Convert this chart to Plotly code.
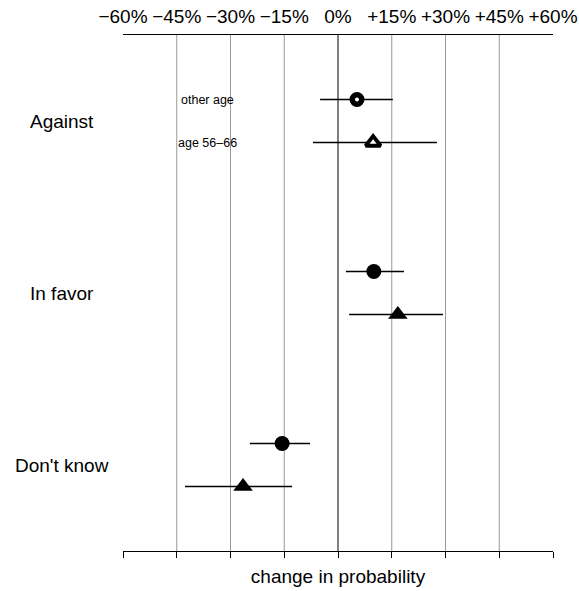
import plotly.graph_objects as go

groups = ["Against", "In favor", "Don't know"]
series_names = ["other age", "age 56\u201366"]
# estimates in percentage points
est_other = [5.3, 10.0, -15.6]
lo_other = [-5.0, 2.2, -24.6]
hi_other = [15.3, 18.4, -7.8]
est_age = [9.8, 16.7, -26.5]
lo_age = [-7.0, 3.1, -42.7]
hi_age = [27.6, 29.3, -12.8]

tick_vals = [-60, -45, -30, -15, 0, 15, 30, 45, 60]
tick_text = ["\u221260%", "\u221245%", "\u221230%", "\u221215%", "0%", "+15%", "+30%", "+45%", "+60%"]

group_centers = [2, 6, 10]
y_other = [c - 0.5 for c in group_centers]
y_age = [c + 0.5 for c in group_centers]

fig = go.Figure()

def add_series(est, lo, hi, ys, symbol):
    for i in range(len(est)):
        hollow = (i == 0)
        if symbol == "circle":
            size, lw = (9.5, 5.5) if hollow else (15, 0)
        else:
            size, lw = (13, 3.8) if hollow else (17, 0)
        fig.add_trace(go.Scatter(
            x=[est[i]], y=[ys[i]], mode="markers",
            error_x=dict(type="data", symmetric=False,
                         array=[hi[i] - est[i]], arrayminus=[est[i] - lo[i]],
                         width=0, thickness=1.5, color="black"),
            marker=dict(symbol=symbol, size=size,
                        color="white" if hollow else "black",
                        line=dict(color="black", width=lw)),
            showlegend=False, hoverinfo="skip", xaxis="x", yaxis="y"))

add_series(est_other, lo_other, hi_other, y_other, "circle")
add_series(est_age, lo_age, hi_age, y_age, "triangle-up")

# dummy trace on bottom axis
fig.add_trace(go.Scatter(x=[-60, 60], y=[0, 0], mode="markers", marker=dict(opacity=0),
                         showlegend=False, hoverinfo="skip", xaxis="x2", yaxis="y"))

fig.update_layout(
    width=579, height=591,
    margin=dict(l=123, r=26, t=35, b=40, autoexpand=False),
    plot_bgcolor="white", paper_bgcolor="white",
    font=dict(family="Liberation Sans, Arial, sans-serif", size=19, color="black"),
    xaxis=dict(range=[-60, 60], side="top", tickvals=tick_vals, ticktext=tick_text,
               showgrid=False, zeroline=False, showline=True, linecolor="black", linewidth=1,
               ticks="outside", ticklen=3, tickcolor="rgba(0,0,0,0)", automargin=False,
               tickfont=dict(size=19)),
    xaxis2=dict(range=[-60, 60], overlaying="x", side="bottom", tickvals=tick_vals,
                showticklabels=False, ticks="outside", ticklen=6, tickcolor="black",
                showline=True, linecolor="black", linewidth=1, showgrid=False, zeroline=False,
                automargin=False,
                title=dict(text="change in probability", font=dict(size=19), standoff=12)),
    yaxis=dict(range=[12, 0], showgrid=False, zeroline=False, showticklabels=False,
               showline=False, ticks="", automargin=False),
)

# vertical grid lines
for v in tick_vals[1:-1]:
    fig.add_shape(type="line", xref="x", yref="paper", x0=v, x1=v, y0=0, y1=1,
                  line=dict(color="black" if v == 0 else "#999999", width=1), layer="below")

for g, c in zip(groups, group_centers):
    fig.add_annotation(text=g, xref="paper", yref="y", x=(61.5 - 123) / 430, y=c,
                       xanchor="center", yanchor="middle", showarrow=False,
                       font=dict(size=19, color="black"))

for name, yy in zip(series_names, [y_other[0], y_age[0]]):
    fig.add_annotation(text=name, xref="x", yref="y", x=-36.3, y=yy,
                       xanchor="center", yanchor="middle", showarrow=False,
                       font=dict(size=12.5, color="black"))

fig.write_html("out.html", config={"displayModeBar": False},
               post_script="document.body.style.margin='0';document.body.style.overflow='hidden';")
